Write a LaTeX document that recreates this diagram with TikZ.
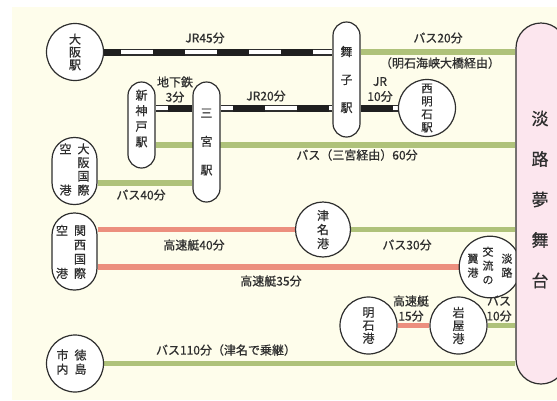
\documentclass[tikz,border=0pt]{standalone}
\usepackage{fontspec}
\setmainfont{Noto Sans CJK JP}[FakeBold=0.6]
\usetikzlibrary{backgrounds}
\definecolor{cream}{HTML}{FEFDEB}
\definecolor{busgreen}{HTML}{AFC27A}
\definecolor{boat}{HTML}{EC8F7E}
\definecolor{pinkbox}{HTML}{FCE6EE}
\definecolor{ink}{HTML}{2E2E2E}
\tikzset{
  stn/.style={circle, draw=ink, line width=1.2pt, fill=white, inner sep=0pt, minimum size=57pt, text=ink, align=center},
  stad/.style={rectangle, draw=ink, line width=1.2pt, fill=white, inner sep=0pt, rounded corners=13.5pt, minimum width=27pt, text=ink, align=center},
  wstad/.style={rectangle, draw=ink, line width=1.2pt, fill=white, inner sep=0pt, rounded corners=22pt, minimum width=45pt, text=ink},
  bus/.style={line width=5.5pt, busgreen},
  boatline/.style={line width=5.5pt, boat},
  jr/.style={line width=7pt, draw=ink,
    postaction={draw=white, line width=4.6pt},
    postaction={draw=black!88, line width=7pt, dash pattern=on 32pt off 32pt, dash phase=#1}},
  jr/.default=0pt,
  lbl/.style={text=ink, font=\fontsize{12}{15}\selectfont, inner sep=0pt, align=center},
}
\begin{document}
\begin{tikzpicture}[x=1pt, y=-1pt]
\useasboundingbox (0,0) rectangle (557,400);
\clip (0,0) rectangle (557,400);
% stations
\node[stn, font=\fontsize{12}{12.8}\selectfont] (osaka) at (75,52) {大\\阪\\駅};
\node[stad, minimum height=115pt, font=\fontsize{12}{28}\selectfont] (maiko) at (346.5,79.5) {舞\\子\\駅};
\node[stn, font=\fontsize{11.5}{13}\selectfont] (nishiakashi) at (427,108) {西\\明\\石\\駅};
\node[stad, minimum height=86pt, label={[name=shinkobe-t, text=ink, align=center, font=\fontsize{12}{15.5}\selectfont, yshift=6.5pt]center:新\\神\\戸\\駅}] (shinkobe) at (141.5,125) {};
\node[stad, minimum height=120pt, font=\fontsize{12}{28.5}\selectfont] (sannomiya) at (206.5,142) {三\\宮\\駅};
\node[wstad, minimum height=67pt, font=\fontsize{12}{13.3}\selectfont] (itami) at (74.5,171)
  {\begin{tabular}{@{}c@{\hspace{6pt}}c@{}}空&大\\&阪\\&国\\港&際\end{tabular}\hspace{7pt}};
\node[wstad, minimum height=77pt, font=\fontsize{12}{14.3}\selectfont, label={[name=kansai-t, text=ink, font=\fontsize{12}{14.3}\selectfont, xshift=-3.5pt, yshift=-2pt]center:{\begin{tabular}{@{}c@{\hspace{6pt}}c@{}}空&関\\&西\\&国\\港&際\end{tabular}}}] (kansai) at (74.5,251.5) {};
\node[stn, minimum size=55pt, font=\fontsize{12}{14}\selectfont] (tsuna) at (323,229.5) {津\\名\\港};
\node[stn, minimum size=54pt, font=\fontsize{11}{14}\selectfont] (awajiport) at (490,267)
  {\begin{tabular}{@{}c@{}}翼\\港\end{tabular}\hspace{4pt}\begin{tabular}{@{}c@{}}交\\流\\の\end{tabular}\hspace{8pt}\begin{tabular}{@{}c@{}}淡\\路\end{tabular}};
\node[stn, font=\fontsize{12}{13}\selectfont] (akashi) at (368.5,325.5) {明\\石\\港};
\node[stn, font=\fontsize{12}{13}\selectfont] (iwaya) at (458.5,325.5) {岩\\屋\\港};
\node[stn, font=\fontsize{12}{13}\selectfont] (tokushima) at (75,363.5)
  {\begin{tabular}{@{}c@{\hspace{6pt}}c@{}}市&徳\\内&島\end{tabular}\hspace{7pt}};
\node[rectangle, draw=ink, line width=1.2pt, fill=pinkbox, rounded corners=25pt, minimum width=50pt, minimum height=361pt, inner sep=0pt,
  label={[name=yume-t, text=ink, align=center, font=\fontsize{17}{40.5}\selectfont, yshift=4pt, xshift=-1pt]center:淡\\路\\夢\\舞\\台}] (yume) at (541,203.5) {};
% labels
\node[lbl] (l1) at (205,38) {JR45分};
\node[lbl] (l2) at (438,38) {バス20分};
\node[lbl] (l3) at (440,63) {（明石海峡大橋経由）};
\node[lbl] (l4) at (175,89.5) {地下鉄\\3分};
\node[lbl] (l5) at (266,96) {JR20分};
\node[lbl] (l6) at (380,89.5) {JR\\10分};
\node[lbl] (l7) at (357,155) {バス（三宮経由）60分};
\node[lbl] (l8) at (141,195) {バス40分};
\node[lbl] (l9) at (194,245) {高速艇40分};
\node[lbl] (l10) at (407,245) {バス30分};
\node[lbl] (l11) at (271,281) {高速艇35分};
\node[lbl] (l12) at (411,308.5) {高速艇\\15分};
\node[lbl] (l13) at (499,308.5) {バス\\10分};
\node[lbl] (l14) at (226,350) {バス110分（津名で乗継）};
% connectors behind
\begin{pgfonlayer}{background}
\fill[cream] (12,7) rectangle (557,400);
\coordinate (b60) at ([yshift=-3pt]shinkobe.east |- sannomiya);
\coordinate (b40) at ([yshift=-12pt]itami.east);
\draw[jr=15pt] (osaka.east) -- (maiko.west |- osaka.east);
\draw[bus] (maiko.east |- osaka.east) -- (yume.west |- osaka.east);
\draw[jr=52pt] (shinkobe.east |- nishiakashi) -- (sannomiya.west |- nishiakashi);
\draw[jr=52pt] (sannomiya.east |- nishiakashi) -- (maiko.west |- nishiakashi);
\draw[jr=0pt] (maiko.east |- nishiakashi) -- (nishiakashi.west);
\draw[bus] (b60) -- (b60 -| yume.west);
\draw[bus] (b40) -- (b40 -| sannomiya.west);
\draw[boatline] (kansai.east |- tsuna) -- (tsuna.west);
\draw[bus] (tsuna.east) -- (tsuna -| yume.west);
\draw[boatline] (kansai.east |- awajiport) -- (awajiport.west);
\draw[boatline] (akashi.east) -- (iwaya.west);
\draw[bus] (iwaya.east) -- (iwaya -| yume.west);
\draw[bus] (tokushima.east) -- (tokushima -| yume.west);
\end{pgfonlayer}
\end{tikzpicture}
\end{document}
